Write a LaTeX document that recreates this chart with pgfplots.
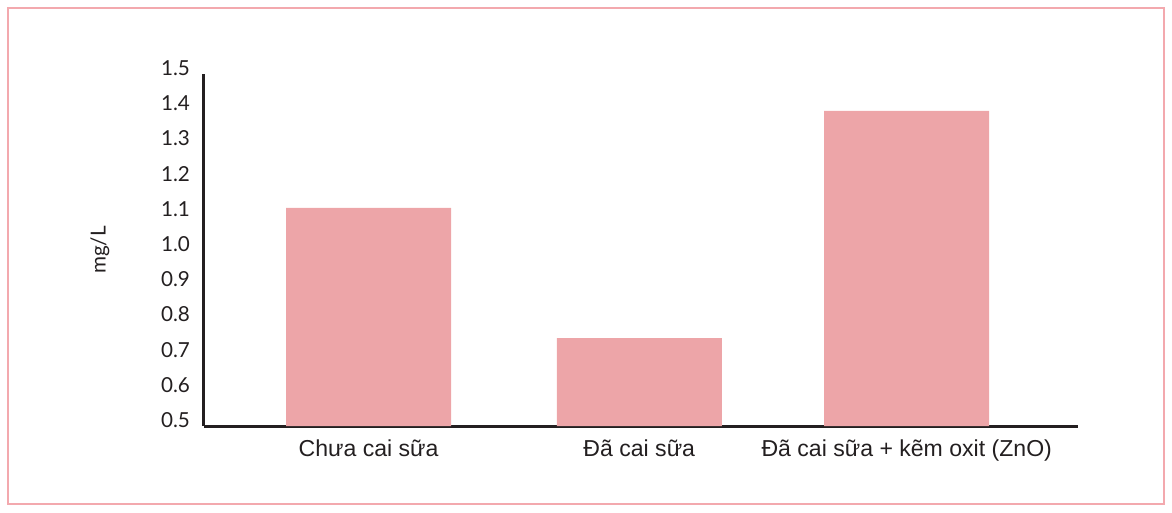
\documentclass[border=0pt]{standalone}
\usepackage{fontspec}
\setmainfont{Liberation Sans}
\newfontfamily\tickfont{Lato}
\usepackage{pgfplots}
\pgfplotsset{compat=1.18}
\definecolor{barpink}{HTML}{EDA5A8}
\definecolor{framepink}{HTML}{F3A9AE}
\definecolor{ink}{HTML}{231F20}
\begin{document}
\begin{tikzpicture}
\path (0pt,0pt) rectangle (879pt,384pt);
\draw[framepink, line width=1.1pt] (6pt,6pt) rectangle (873pt,378pt);
\begin{axis}[
  at={(153pt,64.5pt)}, anchor=south west,
  scale only axis, width=655.5pt, height=264pt,
  xmin=-0.614, xmax=2.647, ymin=0.5, ymax=1.5,
  axis x line*=bottom, axis y line*=left,
  axis line style={ink, line width=2.25pt},
  major tick length=0pt,
  ytick={0.5,0.6,0.7,0.8,0.9,1.0,1.1,1.2,1.3,1.4,1.5},
  yticklabel style={/pgf/number format/fixed, /pgf/number format/precision=1, /pgf/number format/fixed zerofill, /pgf/number format/assume math mode=true,
    font=\tickfont\fontsize{15.5}{18}\selectfont, text=ink, anchor=east, xshift=-7pt, yshift=4.5pt},
  xtick={0,1.01,2.008},
  xticklabels={Chưa cai sữa, Đã cai sữa, Đã cai sữa + kẽm oxit (ZnO)},
  xticklabel style={font=\fontsize{17.3}{20}\selectfont, text=ink, yshift=-6.5pt},
  ylabel={mg/L},
  ylabel style={font=\tickfont\fontsize{15.5}{18}\selectfont, text=ink, at={(axis description cs:-0.119,0.5)}, anchor=center},
  ybar, bar width=123.75pt, bar shift=0pt,
]
\addplot[fill=barpink, draw=none] coordinates {(0,1.12) (1.01,0.75) (2.008,1.395)};
\end{axis}
\end{tikzpicture}
\end{document}
